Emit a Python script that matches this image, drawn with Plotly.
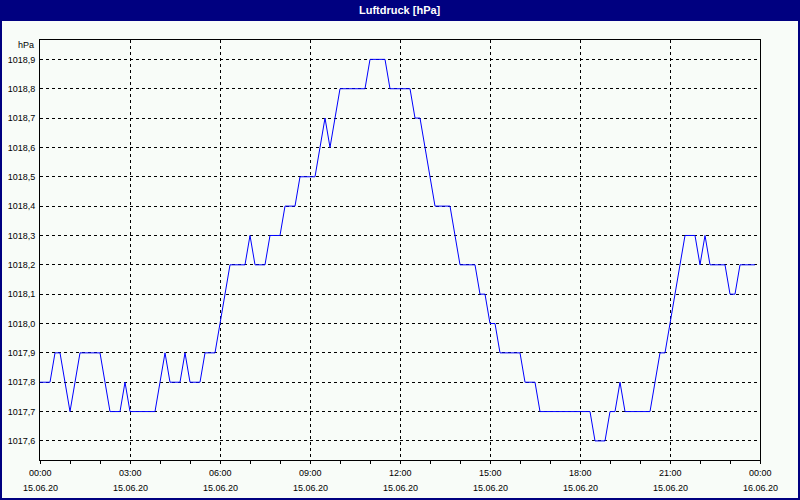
import plotly.graph_objects as go
import pandas as pd

# Pressure readings every 10 minutes, 15.06.20 00:00 .. 23:50 (hPa)
pressure = [
    1017.8, 1017.8, 1017.8, 1017.9, 1017.9, 1017.8, 1017.7, 1017.8, 1017.9, 1017.9,
    1017.9, 1017.9, 1017.9, 1017.8, 1017.7, 1017.7, 1017.7, 1017.8, 1017.7, 1017.7,
    1017.7, 1017.7, 1017.7, 1017.7, 1017.8, 1017.9, 1017.8, 1017.8, 1017.8, 1017.9,
    1017.8, 1017.8, 1017.8, 1017.9, 1017.9, 1017.9, 1018.0, 1018.1, 1018.2, 1018.2,
    1018.2, 1018.2, 1018.3, 1018.2, 1018.2, 1018.2, 1018.3, 1018.3, 1018.3, 1018.4,
    1018.4, 1018.4, 1018.5, 1018.5, 1018.5, 1018.5, 1018.6, 1018.7, 1018.6, 1018.7,
    1018.8, 1018.8, 1018.8, 1018.8, 1018.8, 1018.8, 1018.9, 1018.9, 1018.9, 1018.9,
    1018.8, 1018.8, 1018.8, 1018.8, 1018.8, 1018.7, 1018.7, 1018.6, 1018.5, 1018.4,
    1018.4, 1018.4, 1018.4, 1018.3, 1018.2, 1018.2, 1018.2, 1018.2, 1018.1, 1018.1,
    1018.0, 1018.0, 1017.9, 1017.9, 1017.9, 1017.9, 1017.9, 1017.8, 1017.8, 1017.8,
    1017.7, 1017.7, 1017.7, 1017.7, 1017.7, 1017.7, 1017.7, 1017.7, 1017.7, 1017.7,
    1017.7, 1017.6, 1017.6, 1017.6, 1017.7, 1017.7, 1017.8, 1017.7, 1017.7, 1017.7,
    1017.7, 1017.7, 1017.7, 1017.8, 1017.9, 1017.9, 1018.0, 1018.1, 1018.2, 1018.3,
    1018.3, 1018.3, 1018.2, 1018.3, 1018.2, 1018.2, 1018.2, 1018.2, 1018.1, 1018.1,
    1018.2, 1018.2, 1018.2, 1018.2,
]
times = pd.date_range("2020-06-15 00:00", periods=len(pressure), freq="10min")

tick_positions = pd.date_range("2020-06-15 00:00", "2020-06-16 00:00", freq="3h")
tick_times = ["00:00", "03:00", "06:00", "09:00", "12:00", "15:00", "18:00", "21:00", "00:00"]
tick_dates = ["15.06.20"] * 8 + ["16.06.20"]
y_ticks = [1017.6, 1017.7, 1017.8, 1017.9, 1018.0, 1018.1, 1018.2, 1018.3,
           1018.4, 1018.5, 1018.6, 1018.7, 1018.8, 1018.9]

W, H = 800, 500
L, R, T, B = 40, 40, 40, 40
PW, PH = W - L - R, H - T - B

def px(x):
    return (x - L) / PW

def py(y):
    return (H - B - y) / PH

BG = "#F8FCF8"
NAVY = "#000080"
FONT = "Liberation Sans"

fig = go.Figure()
fig.add_trace(go.Scatter(
    x=times, y=pressure, mode="lines",
    line=dict(color="#0000FF", width=1),
    hoverinfo="skip", showlegend=False,
))

annotations = []
for t, a, b in zip(tick_positions, tick_times, tick_dates):
    annotations.append(dict(x=t, xref="x", y=py(473), yref="paper", text=a,
                            showarrow=False, xanchor="center", yanchor="middle",
                            font=dict(family=FONT, size=9, color="black")))
    annotations.append(dict(x=t, xref="x", y=py(488), yref="paper", text=b,
                            showarrow=False, xanchor="center", yanchor="middle",
                            font=dict(family=FONT, size=9, color="black")))
annotations.append(dict(x=px(36), xref="paper", y=py(45), yref="paper", text="hPa",
                        showarrow=False, xanchor="right", yanchor="middle",
                        font=dict(family=FONT, size=9, color="black")))
annotations.append(dict(x=0.5, xref="paper", y=py(10), yref="paper", text="<b>Luftdruck [hPa]</b>",
                        showarrow=False, xanchor="center", yanchor="middle",
                        font=dict(family=FONT, size=11, color="white")))

shapes = [
    dict(type="rect", xref="paper", yref="paper", x0=px(0), x1=px(800), y0=py(21), y1=py(0),
         fillcolor=NAVY, line=dict(width=0), layer="above"),
    dict(type="rect", xref="paper", yref="paper", x0=px(1), x1=px(799), y0=py(499), y1=py(1),
         line=dict(color=NAVY, width=2), fillcolor="rgba(0,0,0,0)", layer="above"),
]

fig.update_layout(
    width=W, height=H,
    margin=dict(l=L, r=R, t=T, b=B, autoexpand=False),
    paper_bgcolor=BG, plot_bgcolor=BG,
    separators=",.",
    font=dict(family=FONT, size=9, color="black"),
    annotations=annotations,
    shapes=shapes,
    xaxis=dict(
        type="date",
        range=["2020-06-15 00:00", "2020-06-16 00:00"],
        tickmode="linear", tick0="2020-06-15 00:00", dtick=3 * 3600000,
        showticklabels=False,
        ticks="outside", ticklen=3, tickcolor="black", tickwidth=1,
        showgrid=True, gridcolor="black", gridwidth=1, griddash="3px,3px",
        minor=dict(dtick=3600000, ticks="outside", ticklen=3, tickcolor="black",
                   tickwidth=1, showgrid=False),
        showline=True, linecolor="black", linewidth=1, mirror=True,
        zeroline=False, fixedrange=True,
    ),
    yaxis=dict(
        range=[1017.535, 1018.966],
        tickmode="array", tickvals=y_ticks, tickformat=".1f",
        ticks="", ticklabelstandoff=2,
        tickfont=dict(family=FONT, size=9, color="black"),
        showgrid=True, gridcolor="black", gridwidth=1, griddash="3px,3px",
        showline=True, linecolor="black", linewidth=1, mirror=True,
        zeroline=False, fixedrange=True,
    ),
)

fig.write_html(
    "out.html",
    config={"displayModeBar": False, "staticPlot": True},
    post_script="document.body.style.margin='0';document.body.style.background='%s';" % BG,
)
